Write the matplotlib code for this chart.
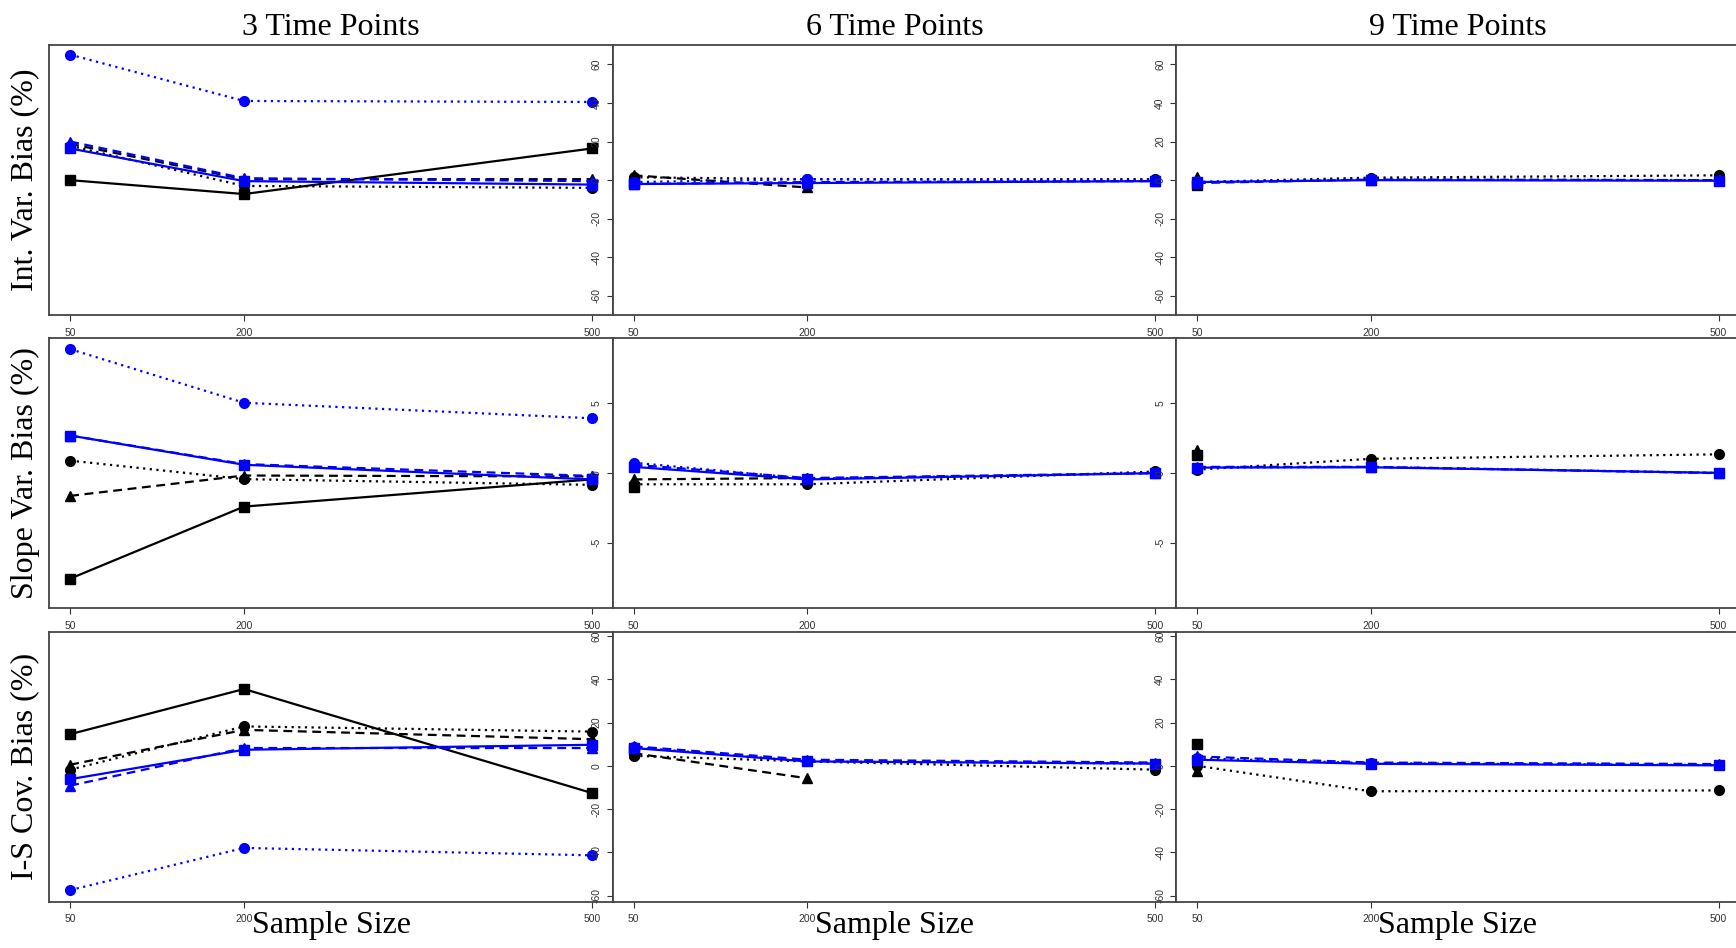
import matplotlib
matplotlib.use("Agg")
import matplotlib.pyplot as plt

nan = float("nan")

# sample sizes on the x axis
sample_sizes = [50, 200, 500]
col_titles = ["3 Time Points", "6 Time Points", "9 Time Points"]
row_labels = ["Int. Var. Bias (%)", "Slope Var. Bias (%)", "I-S Cov. Bias (%)"]

# each list: one entry per column (3, 6, 9 time points), values at n = 50, 200, 500
# nan = no value shown in the reference
int_black_solid = [[0, -7.2, 16.4], [-1.5, nan, nan], [-2.5, nan, nan]]
int_black_dashed = [[18.8, 0.5, 0.5], [2.5, -3.8, nan], [1.5, nan, nan]]
int_black_dotted = [[17.8, -3, -4], [1.5, 0.5, 0.5], [-1, 1.3, 2.5]]
int_blue_solid = [[16.4, -0.5, -2.3], [-2, -1.5, -0.5], [-1, 0, -0.3]]
int_blue_dashed = [[20, 1, -0.5], [-2, -1, -0.5], [-1.5, 0.3, 0]]
int_blue_dotted = [[65, 41, 40.5], [-1, 0.5, 0], [-1, 0.5, 0]]

slope_black_solid = [[-7.57, -2.4, -0.45], [-0.96, nan, nan], [1.3, nan, nan]]
slope_black_dashed = [[-1.63, -0.17, -0.24], [-0.45, -0.35, nan], [1.65, nan, nan]]
slope_black_dotted = [[0.9, -0.43, -0.84], [-0.8, -0.8, 0.12], [0.25, 1.03, 1.35]]
slope_blue_solid = [[2.7, 0.6, -0.45], [0.45, -0.45, 0], [0.4, 0.42, 0.02]]
slope_blue_dashed = [[2.7, 0.65, -0.2], [0.6, -0.35, 0], [0.45, 0.45, 0]]
slope_blue_dotted = [[8.9, 5.05, 3.94], [0.75, -0.4, 0], [0.4, 0.45, 0.02]]

cov_black_solid = [[14.6, 35.5, -12.6], [7.4, nan, nan], [10, nan, nan]]
cov_black_dashed = [[0.5, 16.6, 12.3], [5.8, -5.8, nan], [-2.2, nan, nan]]
cov_black_dotted = [[-1.8, 18.2, 15.8], [4.6, 2, -1.8], [0, -11.8, -11.4]]
cov_blue_solid = [[-6.2, 7.4, 9.7], [8.2, 2, 1], [2.8, 0.9, 0.2]]
cov_blue_dashed = [[-9.2, 8.2, 8.2], [9, 2.8, 1.5], [4.3, 1.5, 0.8]]
cov_blue_dotted = [[-57.5, -38, -41.4], [8.6, 2, 1], [3.5, 1.2, 0.3]]

rows = [
    [int_black_solid, int_black_dashed, int_black_dotted, int_blue_solid, int_blue_dashed, int_blue_dotted],
    [slope_black_solid, slope_black_dashed, slope_black_dotted, slope_blue_solid, slope_blue_dashed, slope_blue_dotted],
    [cov_black_solid, cov_black_dashed, cov_black_dotted, cov_blue_solid, cov_blue_dashed, cov_blue_dotted],
]
y_ticks = [[-60, -40, -20, 0, 20, 40, 60], [-5, 0, 5], [-60, -40, -20, 0, 20, 40, 60]]
y_lims = [(-70, 70), (-9.7, 9.7), (-63, 62)]

# style per series: black solid/dashed/dotted then blue
styles = [
    ("black", "-", "s", 6.5),
    ("black", (0, (4, 2.5)), "^", 7.5),
    ("black", (0, (1, 2)), "o", 7),
    ("#0000ff", "-", "s", 6.5),
    ("#0000ff", (0, (4, 2.5)), "^", 7.5),
    ("#0000ff", (0, (1, 2)), "o", 7),
]

W, H = 1736, 948
fig = plt.figure(figsize=(W / 100, H / 100), dpi=100)

col_left = [49.3, 612.7, 1176]
row_top = [45, 338, 631.7]
box_w, box_h = 563.4, 270.3

serif = "Liberation Serif"
tick_font = {"family": "Liberation Sans", "size": 7.5}

for r in range(3):
    for c in range(3):
        ax = fig.add_axes([col_left[c] / W, 1 - (row_top[r] + box_h) / H, box_w / W, box_h / H])
        for s, (color, ls, mk, ms) in zip(rows[r], styles):
            ax.plot(sample_sizes, s[c], color=color, linestyle=ls, lw=1.6,
                    marker=mk, markersize=ms, clip_on=False)
        ax.set_xlim(32, 518)
        ax.set_ylim(*y_lims[r])
        for sp in ax.spines.values():
            sp.set_color("#444444")
            sp.set_linewidth(1.3)
        ax.set_xticks(sample_sizes)
        ax.set_xticklabels([str(n) for n in sample_sizes], fontdict=tick_font, color="#222222")
        ax.tick_params(axis="x", direction="out", length=4, width=0.8, pad=5, colors="#333333")
        if c == 0:
            ax.set_yticks([])
            ax.set_ylabel(row_labels[r], family=serif, fontsize=23, labelpad=7)
        else:
            ax.set_yticks(y_ticks[r])
            ax.set_yticklabels([str(v) for v in y_ticks[r]], fontdict=tick_font,
                               rotation=90, va="center", color="#222222")
            ax.tick_params(axis="y", direction="out", length=4.3, width=0.8, pad=3.5, colors="#333333")
        if r == 0:
            ax.set_title(col_titles[c], family=serif, fontsize=23, pad=7.5)
        if r == 2:
            ax.set_xlabel("Sample Size", family=serif, fontsize=23)
            ax.xaxis.set_label_coords(0.5, -0.035)

fig.savefig("out.png", dpi=100)
